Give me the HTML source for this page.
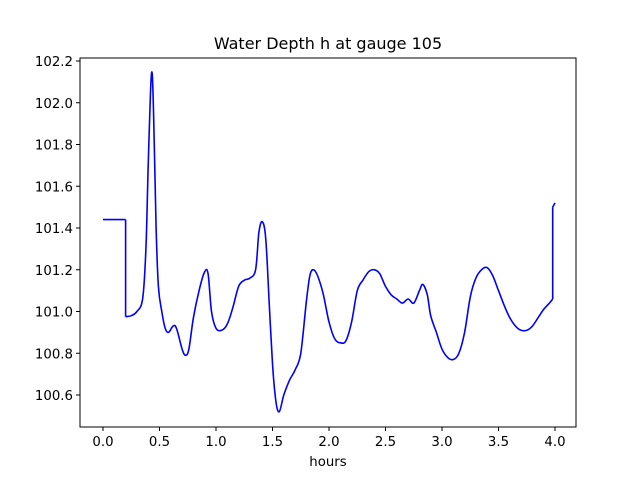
<!DOCTYPE html>
<html><head><style>body{margin:0;background:#fff}svg{display:block}text{font-family:"DejaVu Sans","Liberation Sans",sans-serif;font-size:13.3px;fill:#000}</style></head>
<body>
<svg id="s" width="640" height="480" xmlns="http://www.w3.org/2000/svg">
<rect x="80" y="58" width="496" height="369" fill="none" stroke="#000" stroke-width="1"/>
<text x="328" y="49" text-anchor="middle" style="font-size:16px">Water Depth h at gauge 105</text>
<text x="328" y="466" text-anchor="middle">hours</text>
<g id="t"></g>
<path id="p" fill="none" stroke="#0000ff" stroke-width="1.6" stroke-linejoin="round"/>
</svg>
<script>
var X=function(h){return 103+h*113},Y=function(v){return 395-(v-100.6)*208.75};
var g=document.getElementById('t'),s="";
for(var i=0;i<=8;i++){var h=i*0.5,x=X(h);s+='<line x1="'+x+'" y1="427" x2="'+x+'" y2="431" stroke="#000"/><text x="'+x+'" y="446" text-anchor="middle">'+h.toFixed(1)+'</text>';}
for(var i=0;i<=8;i++){var v=100.6+i*0.2,y=Y(v);s+='<line x1="76" y1="'+y+'" x2="80" y2="'+y+'" stroke="#000"/><text x="73" y="'+(y+5)+'" text-anchor="end">'+v.toFixed(1)+'</text>';}
g.innerHTML=s;
var d=[[0,101.44],[0.2,101.44],[0.2,100.975],[0.25,100.98],[0.3,101.0],[0.35,101.06],[0.38,101.3],[0.4,101.7],[0.42,102.05],[0.435,102.14],[0.45,101.9],[0.47,101.4],[0.49,101.12],[0.52,101.0],[0.55,100.92],[0.58,100.9],[0.62,100.93],[0.65,100.92],[0.7,100.82],[0.73,100.79],[0.76,100.82],[0.8,100.97],[0.85,101.1],[0.9,101.19],[0.93,101.18],[0.96,101.0],[1.0,100.92],[1.05,100.91],[1.1,100.94],[1.15,101.02],[1.2,101.12],[1.25,101.15],[1.3,101.16],[1.35,101.2],[1.38,101.38],[1.41,101.43],[1.44,101.35],[1.47,101.05],[1.5,100.75],[1.53,100.57],[1.56,100.52],[1.6,100.6],[1.65,100.67],[1.7,100.72],[1.75,100.8],[1.8,101.05],[1.83,101.17],[1.86,101.2],[1.9,101.17],[1.95,101.08],[2.0,100.95],[2.05,100.87],[2.1,100.85],[2.15,100.86],[2.2,100.95],[2.25,101.1],[2.3,101.15],[2.35,101.19],[2.4,101.2],[2.45,101.18],[2.5,101.12],[2.55,101.08],[2.6,101.06],[2.65,101.04],[2.7,101.06],[2.75,101.04],[2.8,101.1],[2.83,101.13],[2.87,101.08],[2.9,100.98],[2.95,100.9],[3.0,100.82],[3.05,100.78],[3.1,100.77],[3.15,100.8],[3.2,100.9],[3.25,101.07],[3.3,101.16],[3.35,101.2],[3.4,101.21],[3.45,101.17],[3.5,101.1],[3.55,101.03],[3.6,100.97],[3.65,100.93],[3.7,100.91],[3.75,100.91],[3.8,100.93],[3.85,100.97],[3.9,101.01],[3.95,101.04],[3.98,101.06],[3.98,101.5],[4.0,101.52]];
var P=d.map(function(a){return [X(a[0]),Y(a[1])]});
var runs=[[P[0]]];
for(var i=1;i<P.length;i++){if(Math.abs(P[i][0]-P[i-1][0])<0.01){runs.push([P[i-1],P[i]]);runs.push([P[i]]);}else runs[runs.length-1].push(P[i]);}
var str="";
runs.forEach(function(r){if(r.length<2)return;str+="M"+r[0][0].toFixed(1)+","+r[0][1].toFixed(1);
for(var i=0;i<r.length-1;i++){var p0=r[i-1]||r[i],p1=r[i],p2=r[i+1],p3=r[i+2]||r[i+1];
if(r.length==2){str+="L"+p2[0].toFixed(1)+","+p2[1].toFixed(1);continue;}
var c1=[p1[0]+(p2[0]-p0[0])/6,p1[1]+(p2[1]-p0[1])/6],c2=[p2[0]-(p3[0]-p1[0])/6,p2[1]-(p3[1]-p1[1])/6];
str+="C"+c1[0].toFixed(1)+","+c1[1].toFixed(1)+" "+c2[0].toFixed(1)+","+c2[1].toFixed(1)+" "+p2[0].toFixed(1)+","+p2[1].toFixed(1);}});
document.getElementById('p').setAttribute('d',str);
</script>
</body></html>
